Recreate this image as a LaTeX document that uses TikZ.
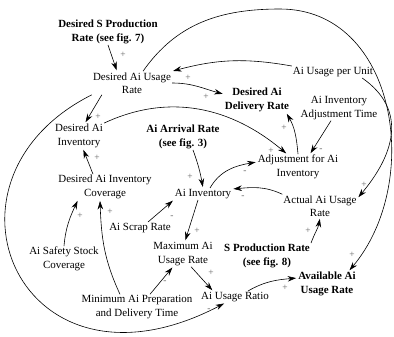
\documentclass[tikz,border=0pt]{standalone}
\usepackage{fontspec}
\setmainfont{Liberation Serif}
\usetikzlibrary{arrows.meta}
\tikzstyle{var}=[align=center,inner sep=1pt,font=\fontsize{11}{13.5}\selectfont]
\tikzstyle{ext}=[var,font=\fontsize{11}{13.5}\selectfont\bfseries]
\tikzstyle{link}=[line width=0.6pt,-{Stealth[length=8.5bp,width=5.5bp]},shorten >=1bp]
\tikzstyle{pol}=[inner sep=0pt,text=black!60,font=\fontsize{9.5}{9.5}\selectfont]

\begin{document}
\begin{tikzpicture}[x=1bp,y=1bp]
\useasboundingbox (0,0) rectangle (394,-337);

\node[ext] (dspr) at (108,-32) {Desired S Production\\Rate (see fig. 7)};
\node[var] (daur) at (132,-83) {Desired Ai Usage\\Rate};
\node[var] (aupu) at (333,-72) {Ai Usage per Unit};
\node[ext] (dadr) at (257,-100) {Desired Ai\\Delivery Rate};
\node[var] (aiat) at (339,-108) {Ai Inventory\\Adjustment Time};
\node[var] (dai) at (79,-136) {Desired Ai\\Inventory};
\node[ext] (aar) at (183,-137) {Ai Arrival Rate\\(see fig. 3)};
\node[var] (afai) at (298,-167) {Adjustment for Ai\\Inventory};
\node[var] (daic) at (105,-187) {Desired Ai Inventory\\Coverage};
\node[var] (ainv) at (203,-194) {Ai Inventory};
\node[var] (aaur) at (320,-206) {Actual Ai Usage\\Rate};
\node[var] (asr) at (140,-228) {Ai Scrap Rate};
\node[var] (maur) at (183,-254) {Maximum Ai\\Usage Rate};
\node[ext] (spr) at (267,-256) {S Production Rate\\(see fig. 8)};
\node[var] (assc) at (64,-259) {Ai Safety Stock\\Coverage};
\node[var] (mapd) at (137,-307) {Minimum Ai Preparation\\and Delivery Time};
\node[var] (aur) at (235,-297) {Ai Usage Ratio};
\node[ext] (avaur) at (327,-284) {Available Ai\\Usage Rate};

\draw[link] (dspr.south) -- ([xshift=-15bp]daur.north) node[pol] at (123,-55) {+};
\draw[link] (aupu.north west) to[out=170,in=15] (daur.north east) node[pol] at (188,-78) {+};
\draw[link] (daur.east) to[out=0,in=165] (dadr.170) node[pol] at (206,-97) {+};
\draw[link] ([xshift=10bp]daur.south west) -- ([xshift=6bp]dai.north) node[pol] at (98,-117) {+};
\draw[link] (daur.south west) .. controls (-78,-180) and (20,-410) .. ([xshift=-10bp]aur.south) node[pol] at (209,-310) {-};
\draw[link] ([xshift=11bp]daur.north) to[out=55,in=180] (280,-9) to[out=0,in=50,looseness=1.1] ([xshift=-8bp]avaur.north east) node[pol] at (352,-255) {+};
\draw[link] (dai.north east) to[out=25,in=140] ([xshift=-11bp]afai.north) node[pol] at (271,-151) {+};
\draw[link] (afai.north) to[out=95,in=-60] ([xshift=-4bp]dadr.south east) node[pol] at (284,-128) {+};
\draw[link] ([xshift=-8bp]aiat.south) -- ([xshift=12bp]afai.north) node[pol] at (321,-150) {-};
\draw[link] ([xshift=-12bp]daic.north) -- ([xshift=4bp]dai.south) node[pol] at (97,-158) {+};
\draw[link] (assc.north) to[out=85,in=-115] ([xshift=-27bp]daic.south) node[pol] at (80,-216) {+};
\draw[link] ([xshift=-17bp]mapd.north) to[out=115,in=-88] ([xshift=-5bp]daic.south) node[pol] at (110,-212) {+};
\draw[link] ([xshift=10bp]aar.south) to[out=-70,in=100] (ainv.north) node[pol] at (190,-177) {+};
\draw[link] ([xshift=7bp]ainv.north) to[out=60,in=190] ([yshift=5bp]afai.west) node[pol] at (245,-172) {-};
\draw[link] (aaur.north west) to[out=155,in=5] ([yshift=5bp]ainv.east) node[pol] at (243,-197) {-};
\draw[link] ([xshift=8bp]asr.north) -- (ainv.south west) node[pol] at (172,-217) {-};
\draw[link] ([xshift=-5bp]ainv.south) -- ([xshift=2bp]maur.north) node[pol] at (197,-231) {+};
\draw[link] ([xshift=8bp]maur.south) -- ([xshift=-22bp]aur.north) node[pol] at (211,-273) {+};
\draw[link] ([xshift=13bp]mapd.north) -- ([xshift=-10bp]maur.south) node[pol] at (165,-282) {-};
\draw[link] ([xshift=13bp]aur.north) to[out=30,in=185] ([yshift=6bp]avaur.west) node[pol] at (285,-288) {+};
\draw[link] (spr.north east) to[out=70,in=-100] (aaur.south) node[pol] at (308,-231) {+};
\draw[link] ([xshift=-12bp]aupu.south east) to[out=-35,in=50,looseness=1.2] ([yshift=8bp]aaur.east) node[pol] at (364,-185) {+};
\end{tikzpicture}
\end{document}
